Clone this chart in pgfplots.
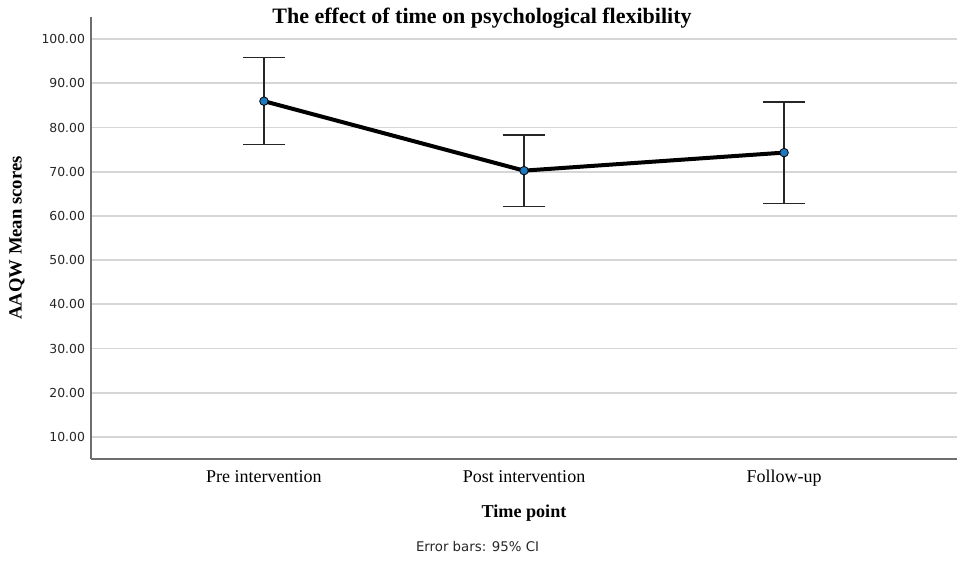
\documentclass[border=0pt]{standalone}
\usepackage{pgfplots}
\pgfplotsset{compat=1.18}
\usepackage{pgfplotstable}
\usepackage{fontspec}
\setmainfont{Liberation Serif}
\newfontfamily\tickfont{DejaVu Sans}
\definecolor{markblue}{RGB}{30,120,190}
\definecolor{gridgray}{RGB}{214,214,214}
\definecolor{axisgray}{RGB}{110,110,110}
\pgfplotstableread{
x y ep em
0 85.96 9.87 9.83
1 70.24 8.08 8.07
2 74.32 11.41 11.56
}\datatab
\begin{document}
\begin{tikzpicture}
\useasboundingbox (-68.25pt,-75.75pt) rectangle (654pt,344.25pt);
\begin{axis}[
  at={(0,0)}, anchor=south west,
  scale only axis, width=649.5pt, height=331.5pt,
  xmin=-0.665, xmax=2.665, ymin=5, ymax=105,
  axis x line*=bottom, axis y line*=left,
  axis line style={draw=axisgray, line width=1.1pt, -},
  xtick={0,1,2},
  xticklabels={Pre intervention, Post intervention, Follow-up},
  ytick={10,20,...,100},
  major tick length=0pt,
  ymajorgrids, grid style={draw=gridgray, line width=1.3pt},
  yticklabel style={font=\tickfont\fontsize{9.3}{11}\selectfont, text=black!85, /pgf/number format/assume math mode=true, /pgf/number format/fixed, /pgf/number format/fixed zerofill, /pgf/number format/precision=2, xshift=-1pt},
  xticklabel style={font=\fontsize{13.5}{16}\selectfont, anchor=base, yshift=-17.25pt},
  clip=false,
]
\addplot[draw=none, mark=none, forget plot,
  error bars/.cd, y dir=both, y explicit,
  error bar style={draw=black!85, line width=1.1pt},
  error mark options={draw=black!85, line width=1.1pt, mark size=16pt, rotate=90}]
  table[x=x, y=y, y error plus=ep, y error minus=em] {\datatab};
\addplot[black, line width=3pt, mark=none] table[x=x, y=y] {\datatab};
\addplot[only marks, mark=*, mark size=3.2pt, mark options={fill=markblue, draw=black, line width=0.6pt}] table[x=x, y=y] {\datatab};
\end{axis}
\node[anchor=base, font=\bfseries\fontsize{16.5}{19}\selectfont] at (293.25pt,326.5pt) {The effect of time on psychological flexibility};
\node[anchor=base, font=\bfseries\fontsize{13.6}{16}\selectfont] at (324.75pt,-43.5pt) {Time point};
\node[anchor=base, font=\tickfont\fontsize{10}{12}\selectfont, text=black!85] at (289.9pt,-69.5pt) {Error bars: 95\% CI};
\node[anchor=base, rotate=90, font=\bfseries\fontsize{14}{16}\selectfont] at (-52pt,165.75pt) {AAQW Mean scores};
\end{tikzpicture}
\end{document}
